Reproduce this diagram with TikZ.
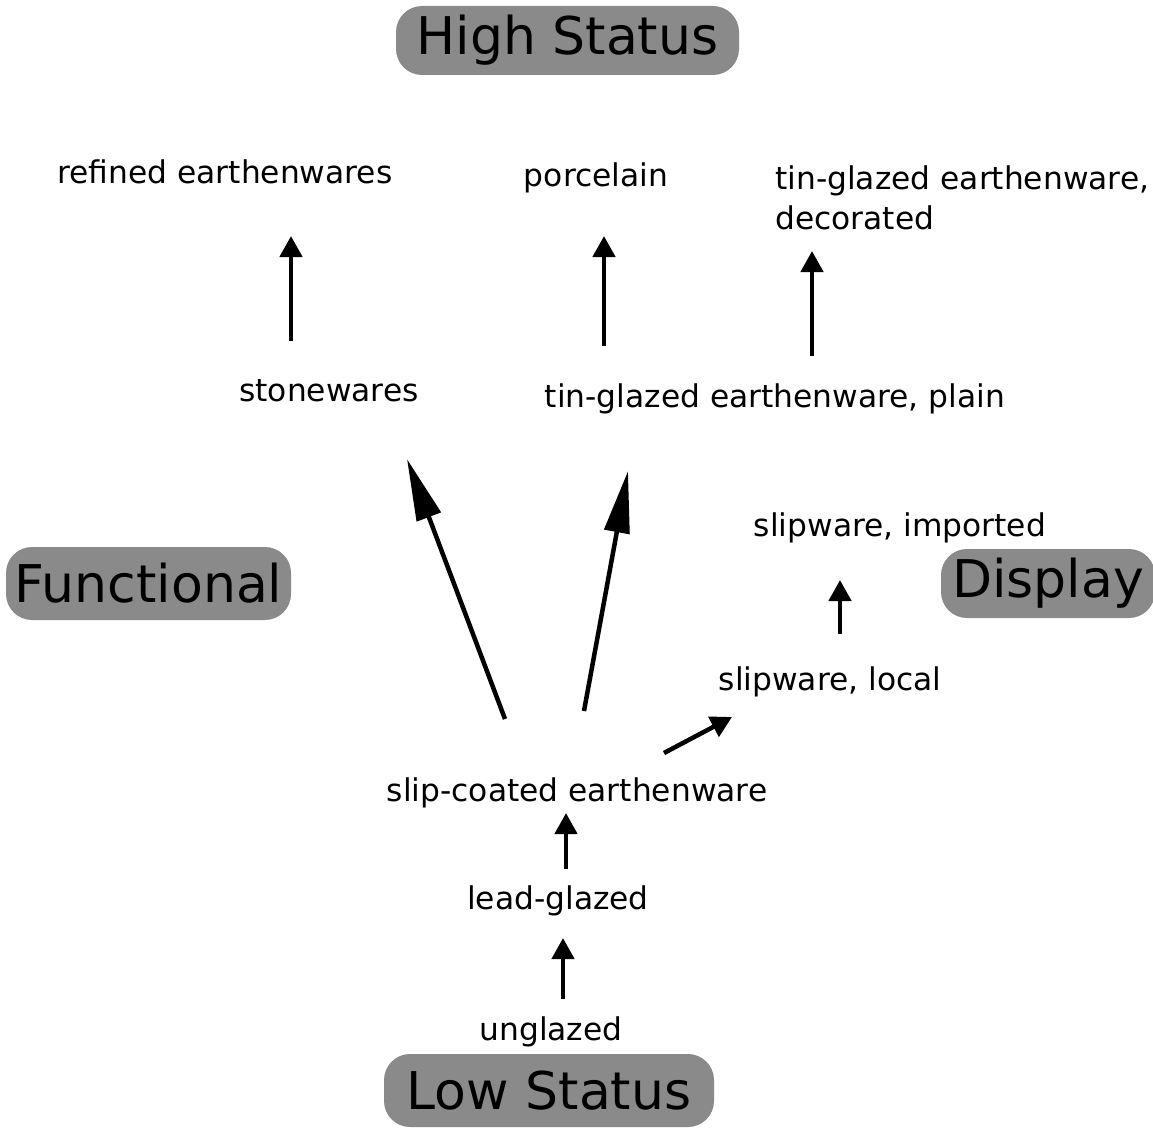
\documentclass[tikz,border=0pt]{standalone}
\usepackage{fontspec}
\setmainfont{DejaVu Sans}
\usetikzlibrary{arrows.meta}
\begin{document}
\begin{tikzpicture}[x=1pt,y=-1pt,
  cat/.style={fill=boxgray,rounded corners=26pt,inner sep=0pt,font=\fontsize{52}{60}\selectfont,text=black},
  lbl/.style={inner sep=0pt,font=\fontsize{31.3}{40}\selectfont,text=black},
  smallarr/.style={line width=4.5pt,-{Triangle[length=21pt,width=22pt]}},
  bigarr/.style={line width=4.5pt,-{Triangle[length=62pt,width=25pt]}}]
\definecolor{boxgray}{HTML}{8A8A8A}
\useasboundingbox (0,0) rectangle (1153,1129);
% category boxes
\node[cat,minimum width=343pt,minimum height=69pt] (high) at (567.5,40.5) {High Status};
\node[cat,minimum width=285pt,minimum height=73pt] (func) at (148.5,583.5) {Functional};
\node[cat,minimum width=214pt,minimum height=69pt] (disp) at (1048,583.5) {Display};
\node[cat,minimum width=330pt,minimum height=73pt] (low) at (549,1090.5) {Low Status};
% labels
\node[lbl] (refined) at (225,172) {refined earthenwares};
\node[lbl] (porc) at (596,178) {porcelain};
\node[lbl,anchor=north west,align=left,font=\fontsize{31.3}{39.5}\selectfont] (tindec) at (775,166) {tin-glazed earthenware,\\decorated};
\node[lbl] (stone) at (329,391) {stonewares};
\node[lbl] (tinplain) at (775,399) {tin-glazed earthenware, plain};
\node[lbl] (slipimp) at (900,528) {slipware, imported};
\node[lbl] (sliploc) at (830,682) {slipware, local};
\node[lbl] (slipcoat) at (577,793) {slip-coated earthenware};
\node[lbl] (lead) at (558,901) {lead-glazed};
\node[lbl] (ungl) at (551,1032) {unglazed};
% arrow end points
\coordinate (a1s) at (291,341); \coordinate (a1e) at (291,236);
\coordinate (a2s) at (604,346); \coordinate (a2e) at (604,236);
\coordinate (a3s) at (812,356); \coordinate (a3e) at (812,251);
\coordinate (a4s) at (505,719); \coordinate (a4e) at (407,459);
\coordinate (a5s) at (584,711); \coordinate (a5e) at (628,471);
\coordinate (a6s) at (664,753); \coordinate (a6e) at (732,717);
\coordinate (a7s) at (840,634); \coordinate (a7e) at (840,580);
\coordinate (a8s) at (566,869); \coordinate (a8e) at (566,813);
\coordinate (a9s) at (563,999); \coordinate (a9e) at (563,938);
\draw[smallarr] (a1s) -- (a1e);
\draw[smallarr] (a2s) -- (a2e);
\draw[smallarr] (a3s) -- (a3e);
\draw[bigarr] (a4s) -- (a4e);
\draw[bigarr] (a5s) -- (a5e);
\draw[smallarr] (a6s) -- (a6e);
\draw[smallarr] (a7s) -- (a7e);
\draw[smallarr] (a8s) -- (a8e);
\draw[smallarr] (a9s) -- (a9e);
\end{tikzpicture}
\end{document}
